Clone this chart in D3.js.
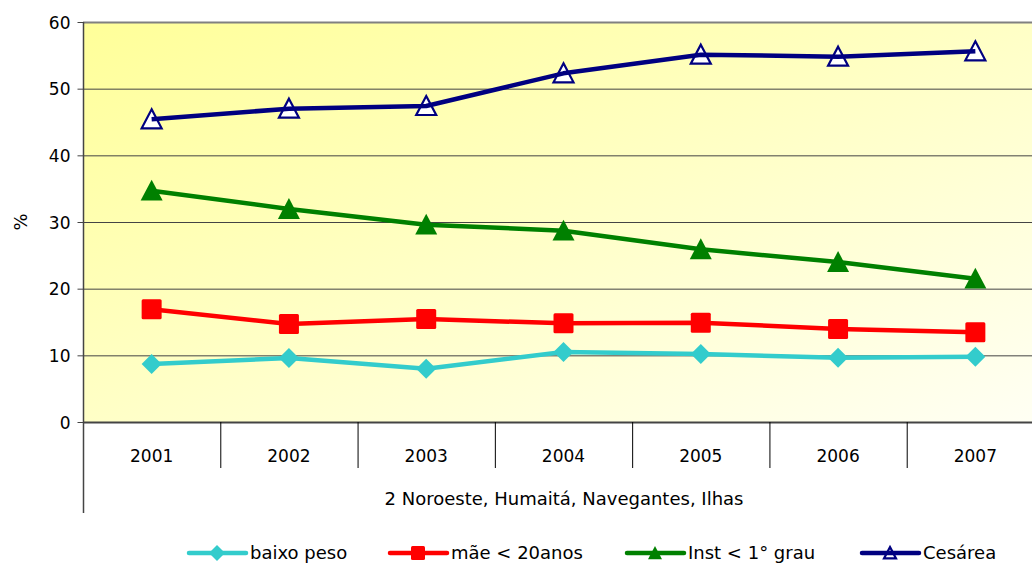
<!DOCTYPE html>
<html lang="en">
<head>
<meta charset="utf-8">
<title>Indicadores 2001-2007</title>
<script src="https://d3js.org/d3.v7.min.js"></script>
<style>
  body { margin: 0; background: #fff; }
  text { font-family: "DejaVu Sans", sans-serif; fill: #000; }
</style>
</head>
<body>
<script>
// DATA
var years = ["2001", "2002", "2003", "2004", "2005", "2006", "2007"];
var baixoPeso = [8.7, 9.6, 8.0, 10.5, 10.2, 9.65, 9.8];
var maeMenor20 = [16.9, 14.7, 15.45, 14.8, 14.9, 13.95, 13.45];
var instMenor1 = [34.7, 31.95, 29.6, 28.7, 25.9, 24.0, 21.5];
var cesarea = [45.4, 47.0, 47.4, 52.3, 55.1, 54.8, 55.6];
var yTicks = [0, 10, 20, 30, 40, 50, 60];
var seriesNames = ["baixo peso", "mãe < 20anos", "Inst < 1° grau", "Cesárea"];
var groupLabel = "2 Noroeste, Humaitá, Navegantes, Ilhas";
var yLabel = "%";

var series = [
  { name: seriesNames[0], values: baixoPeso, color: "#33CCCC", marker: "diamond" },
  { name: seriesNames[1], values: maeMenor20, color: "#FF0000", marker: "square" },
  { name: seriesNames[2], values: instMenor1, color: "#008000", marker: "triangle" },
  { name: seriesNames[3], values: cesarea, color: "#000080", marker: "hollow" }
];

// SIZES
var w = 1032, h = 566;
var plotL = 83, plotT = 22, plotB = 422, plotR = 1044;

var svg = d3.select("body").append("svg")
  .attr("width", w)
  .attr("height", h);

// gradient background
var defs = svg.append("defs");
var grad = defs.append("linearGradient")
  .attr("id", "bg")
  .attr("x1", "0").attr("y1", "0")
  .attr("x2", "1").attr("y2", "1");
grad.append("stop").attr("offset", "0").attr("stop-color", "#FFFF99");
grad.append("stop").attr("offset", "1").attr("stop-color", "#FFFFF4");

// SCALES
var x = d3.scaleBand().domain(years).range([plotL, plotR]).paddingInner(0).paddingOuter(0);
var y = d3.scaleLinear().domain([0, 60]).range([plotB, plotT]);
var cx = function(i) { return x(years[i]) + x.bandwidth() / 2; };

svg.append("rect")
  .attr("x", plotL).attr("y", plotT)
  .attr("width", plotR - plotL).attr("height", plotB - plotT)
  .attr("fill", "url(#bg)");

// GRID
svg.selectAll("line.grid")
  .data(yTicks.filter(function(d) { return d > 0; }))
  .enter().append("line")
  .attr("class", "grid")
  .attr("x1", plotL).attr("x2", plotR)
  .attr("y1", function(d) { return y(d) + 0.5; })
  .attr("y2", function(d) { return y(d) + 0.5; })
  .attr("stroke", function(d) { return d === 60 ? "#808080" : "#444"; })
  .attr("stroke-width", function(d) { return d === 60 ? 2 : 1; });

// Y AXIS
var yAxis = d3.axisLeft(y).tickValues(yTicks).tickSize(6).tickPadding(7);
var ya = svg.append("g")
  .attr("transform", "translate(" + (plotL + 0.5) + ",0)")
  .call(yAxis);
ya.select(".domain").remove();
ya.selectAll("line").attr("stroke", "#444");
ya.selectAll("text").attr("font-size", "17px").attr("font-family", "DejaVu Sans").attr("dy", "0.36em");

svg.append("line")
  .attr("x1", plotL + 0.5).attr("x2", plotL + 0.5)
  .attr("y1", plotT).attr("y2", 513)
  .attr("stroke", "#444").attr("stroke-width", 1.5);

svg.append("text")
  .attr("transform", "translate(27," + ((plotT + plotB) / 2) + ") rotate(-90)")
  .attr("text-anchor", "middle")
  .attr("font-size", "18px")
  .text(yLabel);

// X AXIS
svg.append("line")
  .attr("x1", plotL).attr("x2", plotR)
  .attr("y1", plotB + 0.5).attr("y2", plotB + 0.5)
  .attr("stroke", "#444").attr("stroke-width", 2);

svg.selectAll("line.div")
  .data(years.slice(1))
  .enter().append("line")
  .attr("class", "div")
  .attr("x1", function(d) { return x(d) + 0.5; })
  .attr("x2", function(d) { return x(d) + 0.5; })
  .attr("y1", plotB).attr("y2", 468)
  .attr("stroke", "#000");

svg.selectAll("text.year")
  .data(years)
  .enter().append("text")
  .attr("class", "year")
  .attr("x", function(d) { return x(d) + x.bandwidth() / 2; })
  .attr("y", 462)
  .attr("text-anchor", "middle")
  .attr("font-size", "17px")
  .text(function(d) { return d; });

svg.append("text")
  .attr("x", 564)
  .attr("y", 505)
  .attr("text-anchor", "middle")
  .attr("font-size", "18px")
  .text(groupLabel);

// MARKERS
function triPath(px, py, s) {
  return "M" + px + "," + (py - s) + "L" + (px + s) + "," + (py + s * 0.9) + "L" + (px - s) + "," + (py + s * 0.9) + "Z";
}

function drawMarker(g, type, color, px, py, s) {
  if (type === "diamond") {
    g.append("path")
      .attr("d", "M" + px + "," + (py - s) + "L" + (px + s) + "," + py + "L" + px + "," + (py + s) + "L" + (px - s) + "," + py + "Z")
      .attr("fill", color);
  } else if (type === "square") {
    g.append("rect")
      .attr("x", px - s).attr("y", py - s)
      .attr("width", 2 * s).attr("height", 2 * s)
      .attr("rx", 1.5)
      .attr("fill", color);
  } else if (type === "triangle") {
    g.append("path")
      .attr("d", triPath(px, py, s))
      .attr("fill", color);
  } else {
    g.append("path")
      .attr("d", triPath(px, py, s - 1))
      .attr("fill", "none")
      .attr("stroke", color)
      .attr("stroke-width", 2.2);
  }
}

var markerSize = { diamond: 10, square: 10, triangle: 11, hollow: 11 };

var line = d3.line()
  .x(function(d, i) { return cx(i); })
  .y(function(d) { return y(d); });

series.forEach(function(s) {
  var g = svg.append("g");
  // white fill under hollow markers, line drawn over it up to the centre
  if (s.marker === "hollow") {
    s.values.forEach(function(v, i) {
      g.append("path").attr("d", triPath(cx(i), y(v), markerSize.hollow - 1)).attr("fill", "#fff");
    });
  }
  g.append("path")
    .datum(s.values)
    .attr("d", line)
    .attr("fill", "none")
    .attr("stroke", s.color)
    .attr("stroke-width", 4.5)
    .attr("stroke-linejoin", "round");
  s.values.forEach(function(v, i) {
    drawMarker(g, s.marker, s.color, cx(i), y(v), markerSize[s.marker]);
  });
});

// LEGEND
var legendX = [189, 390, 627, 862];
series.forEach(function(s, i) {
  var g = svg.append("g");
  var lx = legendX[i], ly = 553;
  if (s.marker === "hollow") {
    g.append("path").attr("d", triPath(lx + 28, ly, 6)).attr("fill", "#fff");
  }
  g.append("line")
    .attr("x1", lx).attr("x2", lx + 57)
    .attr("y1", ly).attr("y2", ly)
    .attr("stroke", s.color)
    .attr("stroke-width", 4.5)
    .attr("stroke-linecap", "round");
  drawMarker(g, s.marker, s.color, lx + 28, ly, s.marker === "diamond" ? 8 : 7);
  g.append("text")
    .attr("x", lx + 61)
    .attr("y", ly + 6)
    .attr("font-size", "18px")
    .text(s.name);
});
</script>
</body>
</html>
